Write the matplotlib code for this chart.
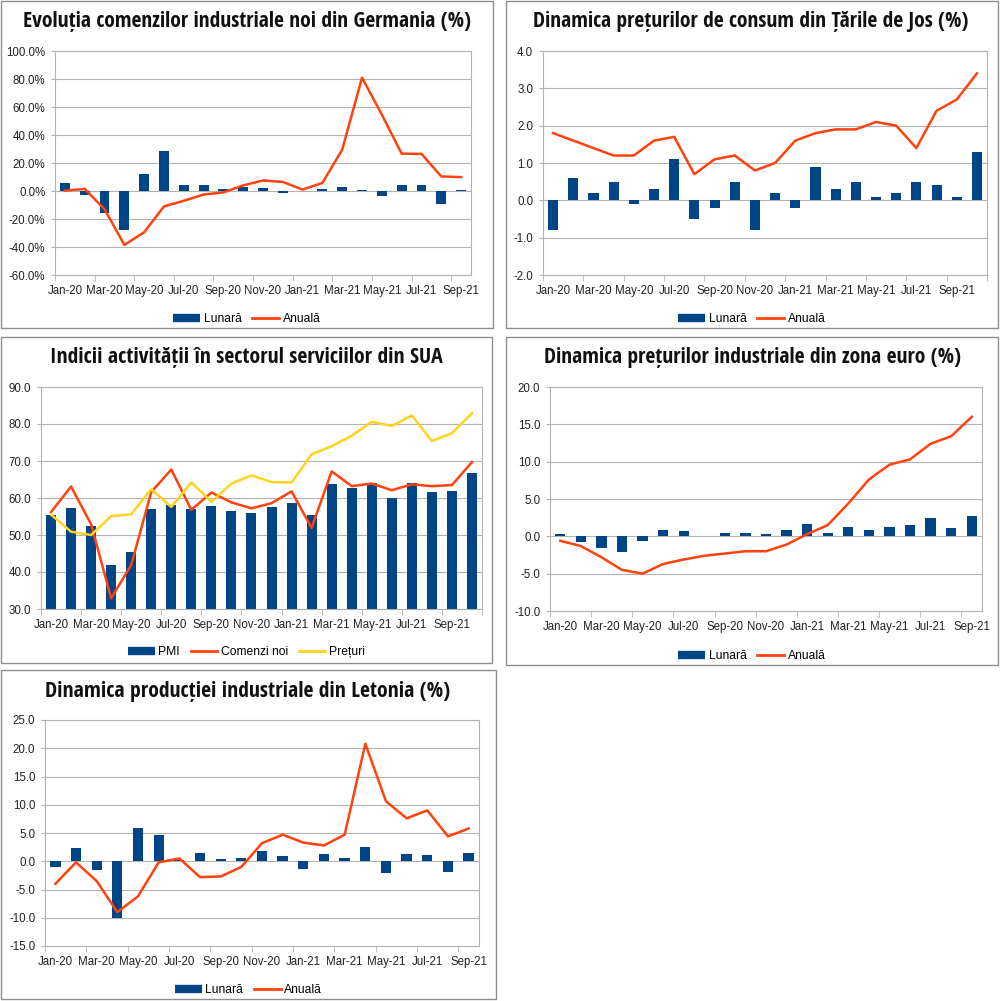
import os
import matplotlib
matplotlib.use("Agg")
import matplotlib.pyplot as plt
from matplotlib.lines import Line2D
from matplotlib.patches import Rectangle
from matplotlib.ticker import FuncFormatter, MultipleLocator, FixedLocator
from matplotlib import font_manager as fm

# ─── Data ────────────────────────────────────────────────────────────────────
MONTHS = ["Jan-20", "Feb-20", "Mar-20", "Apr-20", "May-20", "Jun-20",
          "Jul-20", "Aug-20", "Sep-20", "Oct-20", "Nov-20", "Dec-20",
          "Jan-21", "Feb-21", "Mar-21", "Apr-21", "May-21", "Jun-21",
          "Jul-21", "Aug-21", "Sep-21", "Oct-21"]

# Germania - comenzi industriale noi (%)
de_lunara = [5.5, -2.5, -15.5, -27.5, 12.0, 28.5, 4.5, 4.5, 1.5, 3.0, 2.5,
             -1.5, 0.3, 1.5, 3.0, 1.0, -3.5, 4.5, 4.5, -9.0, 1.0]
de_anuala = [0.3, 1.5, -13.0, -38.5, -29.5, -11.0, -7.0, -2.5, -1.0, 4.0,
             7.5, 6.5, 1.0, 5.8, 29.6, 81.0, 54.5, 26.7, 26.5, 10.4, 9.9]

# Tarile de Jos - preturi de consum (%)
nl_lunara = [-0.8, 0.6, 0.2, 0.5, -0.1, 0.3, 1.1, -0.5, -0.2, 0.5, -0.8,
             0.2, -0.2, 0.9, 0.3, 0.5, 0.1, 0.2, 0.5, 0.4, 0.1, 1.3]
nl_anuala = [1.8, 1.6, 1.4, 1.2, 1.2, 1.6, 1.7, 0.7, 1.1, 1.2, 0.8, 1.0,
             1.6, 1.8, 1.9, 1.9, 2.1, 2.0, 1.4, 2.4, 2.7, 3.4]

# SUA - servicii
us_pmi = [55.5, 57.3, 52.5, 41.8, 45.4, 57.1, 58.1, 56.9, 57.8, 56.6, 55.9,
          57.7, 58.7, 55.3, 63.7, 62.7, 64.0, 60.1, 64.1, 61.7, 61.9, 66.7]
us_comenzi = [56.2, 63.1, 52.9, 32.9, 41.9, 61.6, 67.7, 56.8, 61.5, 58.8,
              57.2, 58.6, 61.8, 51.9, 67.2, 63.2, 63.9, 62.1, 63.7, 63.2,
              63.5, 69.7]
us_preturi = [55.5, 50.9, 50.0, 55.1, 55.6, 62.4, 57.6, 64.2, 59.0, 63.9,
              66.1, 64.3, 64.2, 71.8, 74.0, 76.8, 80.6, 79.5, 82.3, 75.4,
              77.5, 82.9]

# Zona euro - preturi industriale (%)
ez_lunara = [0.3, -0.7, -1.5, -2.1, -0.6, 0.8, 0.7, 0.1, 0.4, 0.4, 0.3, 0.9,
             1.7, 0.5, 1.2, 0.9, 1.3, 1.5, 2.5, 1.1, 2.7]
ez_anuala = [-0.6, -1.3, -2.8, -4.5, -5.0, -3.7, -3.1, -2.6, -2.3, -2.0,
             -2.0, -1.1, 0.3, 1.5, 4.4, 7.6, 9.6, 10.3, 12.4, 13.4, 16.0]

# Letonia - productie industriala (%)
lv_lunara = [-1.0, 2.3, -1.5, -10.0, 5.9, 4.7, 0.2, 1.5, 0.4, 0.5, 1.8, 1.0,
             -1.4, 1.3, 0.5, 2.6, -2.1, 1.3, 1.1, -1.9, 1.5]
lv_anuala = [-4.0, -0.2, -3.5, -9.0, -6.2, -0.2, 0.5, -2.8, -2.7, -1.0, 3.2,
             4.7, 3.3, 2.8, 4.7, 20.8, 10.6, 7.6, 9.0, 4.4, 5.8]

# ─── Style ───────────────────────────────────────────────────────────────────
W, H = 1000, 1001
NAVY = "#004586"
ORANGE = "#ff420e"
YELLOW = "#ffd320"
GRID = "#b3b3b3"
BORDER = "#8f8f8f"

# pick the narrowest bold face we can find for the titles
files = {os.path.basename(f.fname).lower(): f.fname for f in fm.fontManager.ttflist}
TITLE_PROPS = fm.FontProperties(family="DejaVu Sans", weight="bold")
for cand in ["notosans-condensedbold.ttf", "notosans-condensedextrabold.ttf",
             "notosans-semicondensedbold.ttf", "opensans-condbold.ttf",
             "liberationsansnarrow-bold.ttf", "dejavusanscondensed-bold.ttf"]:
    if cand in files:
        TITLE_PROPS = fm.FontProperties(fname=files[cand])
        break

names = {f.name for f in fm.fontManager.ttflist}
BODY = "Liberation Sans" if "Liberation Sans" in names else "DejaVu Sans"
plt.rcParams["font.family"] = [BODY, "DejaVu Sans"]

fig = plt.figure(figsize=(W / 100, H / 100), dpi=100)
renderer = fig.canvas.get_renderer()


def fit_title(cx, cy, text, width_px):
    # size the title so it spans the same width as in the original
    t = fig.text(cx / W, 1 - cy / H, text, ha="center", va="center",
                 color="#111111", fontproperties=TITLE_PROPS)
    t.set_fontsize(14)
    bb = t.get_window_extent(renderer)
    t.set_fontsize(14 * width_px / bb.width)
    return t


def panel(frame, plot, ylim, ystep, fmt, n, legend_y):
    x0, y0, x1, y1 = frame
    fig.add_artist(Rectangle((x0 / W, 1 - y1 / H), (x1 - x0) / W, (y1 - y0) / H,
                             transform=fig.transFigure, fill=False,
                             ec=BORDER, lw=1.0))
    px0, py0, px1, py1 = plot
    ax = fig.add_axes([px0 / W, 1 - py1 / H, (px1 - px0) / W, (py1 - py0) / H])
    ax.set_xlim(-0.5, n - 0.5)
    ax.set_ylim(*ylim)
    ax.yaxis.set_major_locator(MultipleLocator(ystep))
    ax.yaxis.set_major_formatter(FuncFormatter(fmt))
    ax.set_xticks(range(0, n, 2))
    ax.set_xticklabels(MONTHS[0:n:2])
    ax.xaxis.set_minor_locator(FixedLocator([k - 0.5 for k in range(0, n + 1, 2)]))
    ax.tick_params(axis="x", which="major", length=0, pad=7, labelsize=8.3, labelcolor="#222222")
    ax.tick_params(axis="x", which="minor", length=4, color=GRID)
    ax.tick_params(axis="y", length=3, color=GRID, pad=4, labelsize=8.3, labelcolor="#222222")
    ax.grid(axis="y", color=GRID, lw=0.8, zorder=0)
    ax.set_axisbelow(True)
    for s in ax.spines.values():
        s.set_color(GRID)
        s.set_linewidth(0.8)
    ax._legend_center = ((x0 + x1) / 2 / W, 1 - legend_y / H)
    return ax


def add_legend(ax, handles, labels):
    fig.legend(handles, labels, loc="center", bbox_to_anchor=ax._legend_center,
               ncol=len(labels), frameon=False, fontsize=8.7, handlelength=2.2,
               handletextpad=0.3, columnspacing=0.9, borderaxespad=0)


def bar_handle():
    return Line2D([], [], color=NAVY, lw=6, solid_capstyle="butt")


def line_handle(c):
    return Line2D([], [], color=c, lw=2)


pct = lambda v, p: f"{v:.1f}%"
one = lambda v, p: f"{v:.1f}"

# ── Panel 1: Germania ───────────────────────────────────────────────────────
ax1 = panel((1, 1, 493, 328), (55, 51, 471, 275), (-60, 100), 20, pct, 21, 319)
fit_title(247, 21, "Evoluția comenzilor industriale noi din Germania (%)", 450)
x = range(21)
ax1.bar(x, de_lunara, width=0.5, color=NAVY, zorder=2)
ax1.plot(x, de_anuala, color=ORANGE, lw=1.8, zorder=3)
add_legend(ax1, [bar_handle(), line_handle(ORANGE)], ["Lunară", "Anuală"])

# ── Panel 2: Tarile de Jos ──────────────────────────────────────────────────
ax2 = panel((506, 1, 998, 328), (543, 51, 987, 275), (-2, 4), 1, one, 22, 319)
fit_title(751, 21, "Dinamica prețurilor de consum din Țările de Jos (%)", 437)
x = range(22)
ax2.bar(x, nl_lunara, width=0.5, color=NAVY, zorder=2)
ax2.plot(x, nl_anuala, color=ORANGE, lw=1.8, zorder=3)
add_legend(ax2, [bar_handle(), line_handle(ORANGE)], ["Lunară", "Anuală"])

# ── Panel 3: SUA ────────────────────────────────────────────────────────────
ax3 = panel((1, 337, 492, 663), (41, 387, 482, 609), (30, 90), 10, one, 22, 652)
fit_title(246, 358, "Indicii activității în sectorul serviciilor din SUA", 395)
x = range(22)
ax3.bar(x, us_pmi, width=0.5, color=NAVY, zorder=2)
ax3.plot(x, us_comenzi, color=ORANGE, lw=1.8, zorder=3)
ax3.plot(x, us_preturi, color=YELLOW, lw=1.8, zorder=3)
add_legend(ax3, [bar_handle(), line_handle(ORANGE), line_handle(YELLOW)],
           ["PMI", "Comenzi noi", "Prețuri"])

# ── Panel 4: Zona euro ──────────────────────────────────────────────────────
ax4 = panel((506, 337, 998, 665), (550, 387, 982, 611), (-10, 20), 5, one, 21, 656)
fit_title(753, 358, "Dinamica prețurilor industriale din zona euro (%)", 420)
x = range(21)
ax4.bar(x, ez_lunara, width=0.5, color=NAVY, zorder=2)
ax4.plot(x, ez_anuala, color=ORANGE, lw=1.8, zorder=3)
add_legend(ax4, [bar_handle(), line_handle(ORANGE)], ["Lunară", "Anuală"])

# ── Panel 5: Letonia ────────────────────────────────────────────────────────
ax5 = panel((1, 670, 496, 999), (45, 720, 479, 946), (-15, 25), 5, one, 21, 990)
fit_title(248, 692, "Dinamica producției industriale din Letonia (%)", 407)
x = range(21)
ax5.bar(x, lv_lunara, width=0.5, color=NAVY, zorder=2)
ax5.plot(x, lv_anuala, color=ORANGE, lw=1.8, zorder=3)
add_legend(ax5, [bar_handle(), line_handle(ORANGE)], ["Lunară", "Anuală"])

fig.savefig("out.png", dpi=100, facecolor="white")
plt.close(fig)
